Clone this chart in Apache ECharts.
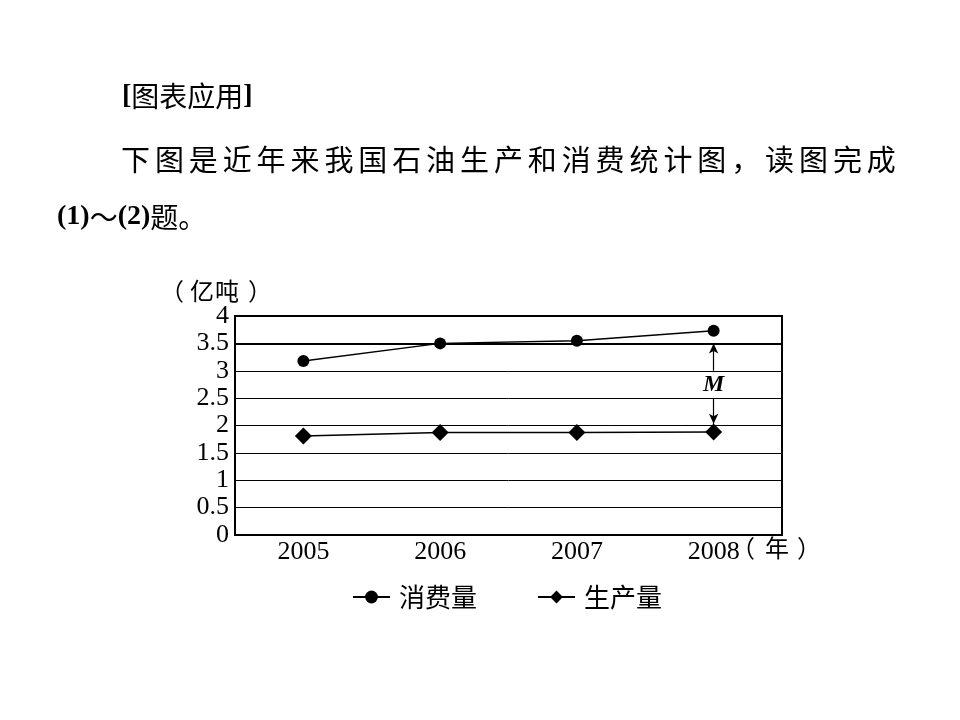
<!DOCTYPE html>
<html><head><meta charset="utf-8">
<script src="https://cdn.jsdelivr.net/npm/echarts@6/dist/echarts.min.js"></script>
<style>html,body{margin:0;padding:0;background:#fff}#c{width:960px;height:720px}</style>
</head><body><div id="c"></div>
<script>
const years = ['2005', '2006', '2007', '2008'];
const consumption = [3.18, 3.5, 3.55, 3.73];
const production = [1.81, 1.87, 1.87, 1.88];
const yTicks = [0, 0.5, 1, 1.5, 2, 2.5, 3, 3.5, 4];
const line1 = '下图是近年来我国石油生产和消费统计图，读图完成';
const yUnit = '（亿吨）';
const xUnit = '（年）';
const seriesNames = ['消费量', '生产量'];

const serif = '"Liberation Serif","Times New Roman",serif';
const cjk = '"Noto Sans CJK SC",sans-serif';

const chart = echarts.init(document.getElementById('c'));
const graphics = [
  {type:'text', x:122, y:82, style:{
    text:'{b|[}{c|图表应用}{b|]}',
    rich:{b:{font:'bold 28px ' + serif, fill:'#000'}, c:{font:'28px ' + cjk, fill:'#000'}}}},
  {type:'text', x:57, y:203, style:{
    text:'{b|(1)}{c|～}{b|(2)}{c|题。}',
    rich:{b:{font:'bold 28px ' + serif, fill:'#000'}, c:{font:'28px ' + cjk, fill:'#000'}}}}
];
Array.from(line1).forEach((ch, i) => {
  graphics.push({type:'text', x:121 + i * 33.9, y:145, style:{text:ch, font:'29px ' + cjk, fill:'#000'}});
});
const yUnitX = [160, 190, 215, 248];
Array.from(yUnit).forEach((ch, i) => {
  graphics.push({type:'text', x:yUnitX[i], y:279, style:{text:ch, font:'24px ' + cjk, fill:'#000'}});
});
const xUnitX = [731, 765, 797];
Array.from(xUnit).forEach((ch, i) => {
  graphics.push({type:'text', x:xUnitX[i], y:536, style:{text:ch, font:'24px ' + cjk, fill:'#000'}});
});

chart.setOption({
  animation: false,
  backgroundColor: '#fff',
  graphic: graphics,
  grid: {left:235, right:178, top:316, bottom:185, show:true, borderColor:'#000', borderWidth:2},
  legend: {
    bottom: 105, left: 347, itemWidth: 37, itemHeight: 16, itemGap: 60,
    textStyle: {fontFamily: cjk, fontSize: 26, color:'#000', padding:[0,0,0,4]},
    data: seriesNames
  },
  xAxis: {
    type: 'category', data: years, boundaryGap: true,
    axisLine: {lineStyle:{color:'#000', width:2}},
    axisTick: {inside:true, length:8, lineStyle:{color:'#000', width:1.5}},
    axisLabel: {fontFamily: serif, fontSize: 26, color:'#000', margin: 4}
  },
  yAxis: {
    type: 'value', min: 0, max: 4, interval: 0.5,
    axisLine: {show:true, lineStyle:{color:'#000', width:2}},
    axisTick: {show:false},
    axisLabel: {fontFamily: serif, fontSize: 26, color:'#000', margin: 6,
      formatter: v => String(yTicks[Math.round(v / 0.5)])},
    splitLine: {lineStyle:{color:'#000', width:1}}
  },
  series: [
    {
      name: seriesNames[0], type: 'line', data: consumption,
      symbol: 'circle', symbolSize: 12,
      lineStyle: {color:'#000', width:1.5}, itemStyle: {color:'#000'},
      markLine: {
        silent: true, symbol: 'none', label: {show:false},
        lineStyle: {color:'#000', width:2, type:'solid'},
        data: [{yAxis: 3.5}]
      }
    },
    {
      name: seriesNames[1], type: 'line', data: production,
      symbol: 'diamond', symbolSize: 17,
      lineStyle: {color:'#000', width:1.5}, itemStyle: {color:'#000'},
      markLine: {
        silent: true, symbol: ['none', 'arrow'], symbolSize: [7, 10],
        label: {show:false},
        lineStyle: {color:'#000', width:1.2, type:'solid'},
        data: [
          [{coord: ['2008', 3.0]}, {coord: ['2008', 3.5]}],
          [{coord: ['2008', 2.5]}, {coord: ['2008', 2.03]}]
        ]
      },
      markPoint: {
        silent: true, symbol: 'rect', symbolSize: [1, 1],
        itemStyle: {color: 'rgba(0,0,0,0)'},
        label: {show:true, formatter:'M', color:'#000', fontFamily: serif,
          fontStyle:'italic', fontWeight:'bold', fontSize: 24, position:'inside'},
        data: [{coord: ['2008', 2.75]}]
      }
    }
  ]
});
</script></body></html>
